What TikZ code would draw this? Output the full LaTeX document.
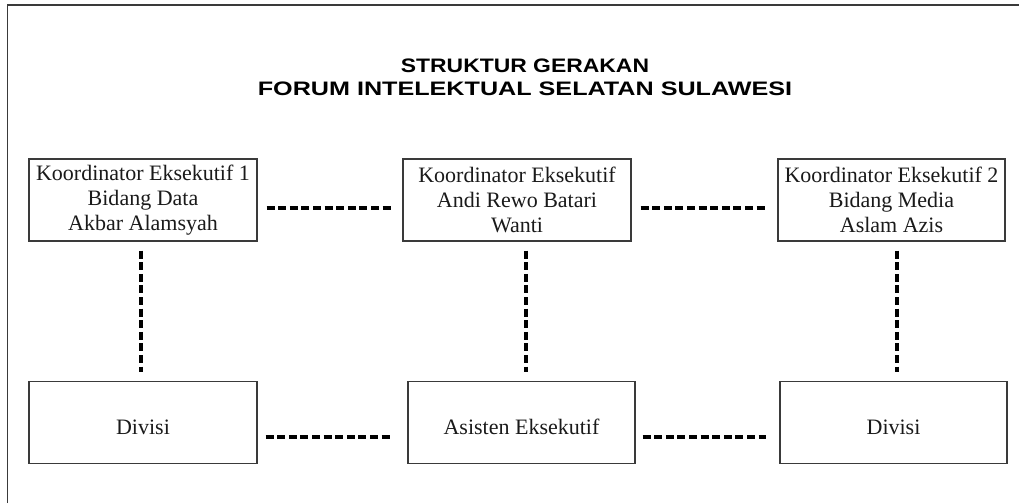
\documentclass[tikz,border=0pt]{standalone}
\usepackage{fontspec}
\setmainfont{Liberation Serif}
\newfontfamily\titlefontA[FakeStretch=1.175]{Liberation Sans}
\newfontfamily\titlefontB[FakeStretch=1.29]{Liberation Sans}
\usetikzlibrary{calc}
\definecolor{boxline}{HTML}{3A3A3A}
\definecolor{txt}{HTML}{1A1A1A}
\tikzset{
  orgbox/.style={draw=boxline, line width=1.2pt, minimum width=228pt, minimum height=82pt,
    inner sep=0pt, align=center, text=txt, font=\fontsize{22}{25}\selectfont},
  lowbox/.style={orgbox, text height=23pt, text depth=0pt},
  dotline/.style={line width=4pt, draw=black, dash pattern=on 8pt off 3.6pt},
  frameline/.style={draw=boxline, line width=1.5pt},
  titletext/.style={align=center, text=black, font=\bfseries\fontsize{19.5}{23}\selectfont}
}
\begin{document}
\begin{tikzpicture}[x=1pt,y=-1pt]
\useasboundingbox (0,0) rectangle (1019,503);
\fill[white] (0,0) rectangle (1019,503);
\draw[frameline] (7.5,503) -- (7.5,5) -- (1019,5);
\node[titletext] (title) at (525,77) {{\titlefontA STRUKTUR GERAKAN}\\{\titlefontB FORUM INTELEKTUAL SELATAN SULAWESI}};
\node[orgbox] (k1) at (143,200) {Koordinator Eksekutif 1\\Bidang Data\\Akbar Alamsyah};
\node[orgbox] (k0) at (517,200) {Koordinator Eksekutif\\Andi Rewo Batari\\Wanti};
\node[orgbox, minimum width=227pt] (k2) at (891.5,200) {Koordinator Eksekutif 2\\Bidang Media\\Aslam Azis};
\node[lowbox] (d1) at (143,422.5) {Divisi};
\node[lowbox, minimum width=227pt] (as) at (521.5,422.5) {Asisten Eksekutif};
\node[lowbox, minimum width=227pt] (d2) at (893.5,422.5) {Divisi};
% horizontal connectors
\draw[dotline] ($(k1.east)+(9,8)$) -- ($(k0.west)+(-10,8)$);
\draw[dotline] ($(k0.east)+(9,8)$) -- ($(k2.west)+(-10,8)$);
\draw[dotline] ($(d1.east)+(8,14.5)$) -- ($(as.west)+(-17,14.5)$);
\draw[dotline] ($(as.east)+(7,14.5)$) -- ($(d2.west)+(-13,14.5)$);
% vertical connectors
\draw[dotline] ($(k1.south)+(-2,9)$) -- ($(d1.north)+(-2,-9)$);
\draw[dotline] ($(k0.south)+(9,9)$) -- ($(as.north)+(4.5,-9)$);
\draw[dotline] ($(k2.south)+(5.5,9)$) -- ($(d2.north)+(3.5,-9)$);
\end{tikzpicture}
\end{document}
